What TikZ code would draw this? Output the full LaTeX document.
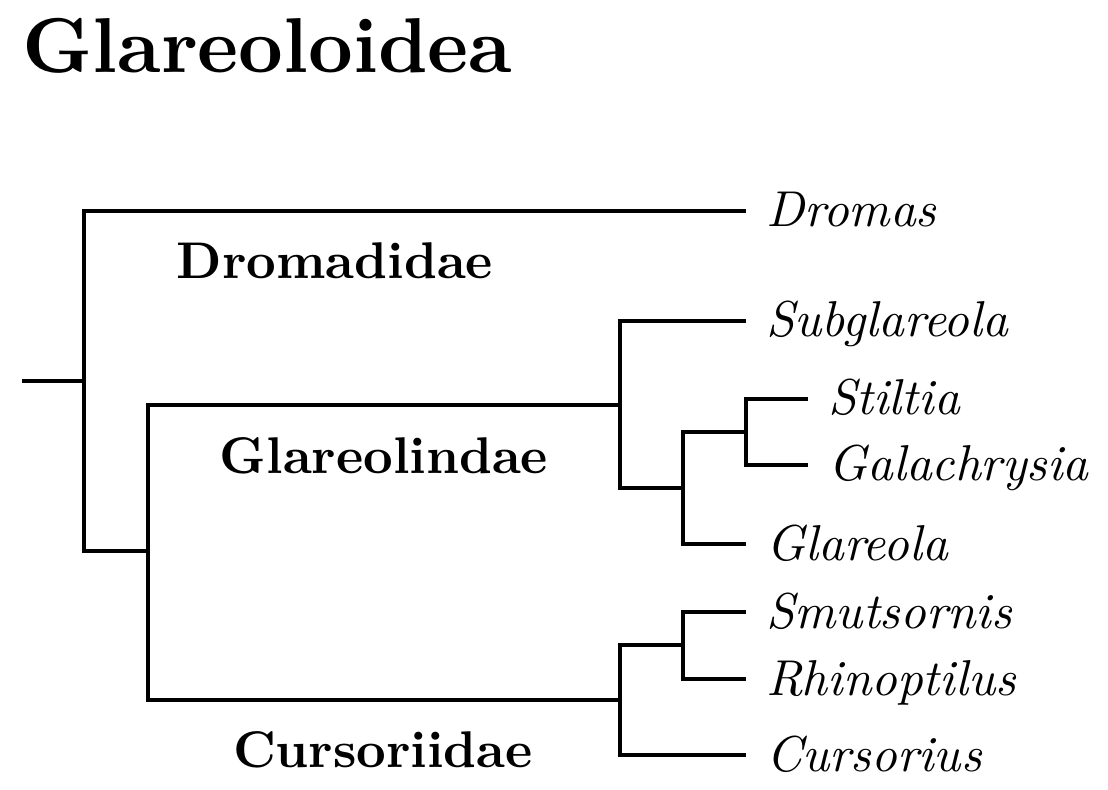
\documentclass[tikz,border=0pt]{standalone}
\usepackage{fontspec}
\setmainfont{lmroman10}[Extension=.otf, UprightFont=*-regular, BoldFont=*-bold, ItalicFont=*-italic, BoldItalicFont=*-bolditalic]
\begin{document}
\begin{tikzpicture}[x=0.5pt,y=-0.5pt,
  branch/.style={line width=1.6pt, line join=miter},
  taxon/.style={anchor=base west, inner sep=0pt, font=\itshape\fontsize{25.2}{30}\selectfont},
  family/.style={anchor=base, inner sep=0pt, font=\bfseries\fontsize{25.8}{30}\selectfont},
  titlestyle/.style={anchor=base west, inner sep=0pt, font=\bfseries\fontsize{38.9}{48}\selectfont}]
\useasboundingbox (0,0) rectangle (1108,790);
% tree coordinates
\coordinate (root0) at (22,381);
\coordinate (n0) at (84,381);
\coordinate (n1) at (148,551);
\coordinate (n2) at (620,405);
\coordinate (n3) at (620,700);
\coordinate (n4) at (683,488);
\coordinate (n5) at (746,432);
\coordinate (n6) at (683,645);
\coordinate (lDro) at (746,211);
\coordinate (lSub) at (746,321);
\coordinate (lSti) at (808,399);
\coordinate (lGal) at (808,465);
\coordinate (lGla) at (746,544);
\coordinate (lSmu) at (746,612);
\coordinate (lRhi) at (746,679);
\coordinate (lCur) at (746,755);
% branches
\draw[branch] (root0) -- (n0);
\draw[branch] (lDro) -| (n0) |- (n1);
\draw[branch] (n2) -| (n1) |- (n3);
\draw[branch] (lSub) -| (n2) |- (n4);
\draw[branch] (n5) -| (n4) |- (lGla);
\draw[branch] (lSti) -| (n5) |- (lGal);
\draw[branch] (n6) -| (n3) |- (lCur);
\draw[branch] (lSmu) -| (n6) |- (lRhi);
% labels
\node[titlestyle] (title) at (22,73) {Glareoloidea};
\node[family] (fDro) at (335,279) {Dromadidae};
\node[family] (fGla) at (384,474) {Glareolindae};
\node[family] (fCur) at (383,767) {Cursoriidae};
\node[taxon] (tDro) at (766,227) {Dromas};
\node[taxon] (tSub) at (766,337) {Subglareola};
\node[taxon] (tSti) at (828,415) {Stiltia};
\node[taxon] (tGal) at (828,481) {Galachrysia};
\node[taxon] (tGla) at (766,560) {Glareola};
\node[taxon] (tSmu) at (766,628) {Smutsornis};
\node[taxon] (tRhi) at (766,695) {Rhinoptilus};
\node[taxon] (tCur) at (766,771) {Cursorius};
\end{tikzpicture}
\end{document}
